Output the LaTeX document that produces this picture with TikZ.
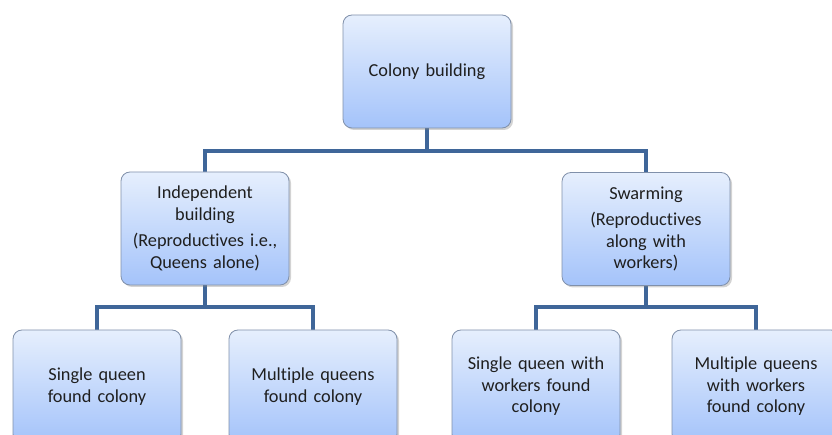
\documentclass[tikz,border=0pt]{standalone}
\usepackage{fontspec}
\setmainfont[Ligatures=NoCommon]{Carlito}
\usetikzlibrary{shadows}
\definecolor{topc}{HTML}{E6EFFD}
\definecolor{botc}{HTML}{A4C3FA}
\definecolor{edgec}{HTML}{8090AA}
\definecolor{connc}{HTML}{3F6699}
\begin{document}
\begin{tikzpicture}[x=1pt,y=-1pt,
  box/.style={draw=edgec, line width=0.8pt, rounded corners=9pt,
    top color=topc, bottom color=botc,
    minimum width=168pt, minimum height=113pt, text width=162pt,
    align=center, font=\fontsize{18.3}{21.5}\selectfont, text=black!88,
    drop shadow={shadow xshift=2pt, shadow yshift=-2pt, opacity=0.35}, inner sep=2pt},
  conn/.style={draw=connc, line width=3.2pt}]
\useasboundingbox (0,0) rectangle (832,435);
\clip (0,0) rectangle (832,435);
\coordinate (j1) at (427,151);
\coordinate (j2) at (205,307);
\coordinate (j3) at (646,307);
\draw[conn] (427,100) -- (j1);
\draw[conn] (j1) -| (205,200);
\draw[conn] (j1) -| (646,200);
\draw[conn] (205,260) -- (j2);
\draw[conn] (j2) -| (97,360);
\draw[conn] (j2) -| (313,360);
\draw[conn] (646,260) -- (j3);
\draw[conn] (j3) -| (536,360);
\draw[conn] (j3) -| (756,360);
\node[box] (root) at (427,71.5) {Colony building};
\node[box] (ind) at (205,228.5) {Independent\\building\\[5pt](Reproductives i.e.,\\Queens alone)};
\node[box] (swm) at (646,229) {Swarming\\[5pt](Reproductives\\along with\\workers)};
\node[box] (b1) at (97,386.5) {Single queen\\found colony};
\node[box] (b2) at (313,386.5) {Multiple queens\\found colony};
\node[box] (b3) at (536,386.5) {Single queen with\\workers found\\colony};
\node[box] (b4) at (756,386.5) {Multiple queens\\with workers\\found colony};
\end{tikzpicture}
\end{document}
